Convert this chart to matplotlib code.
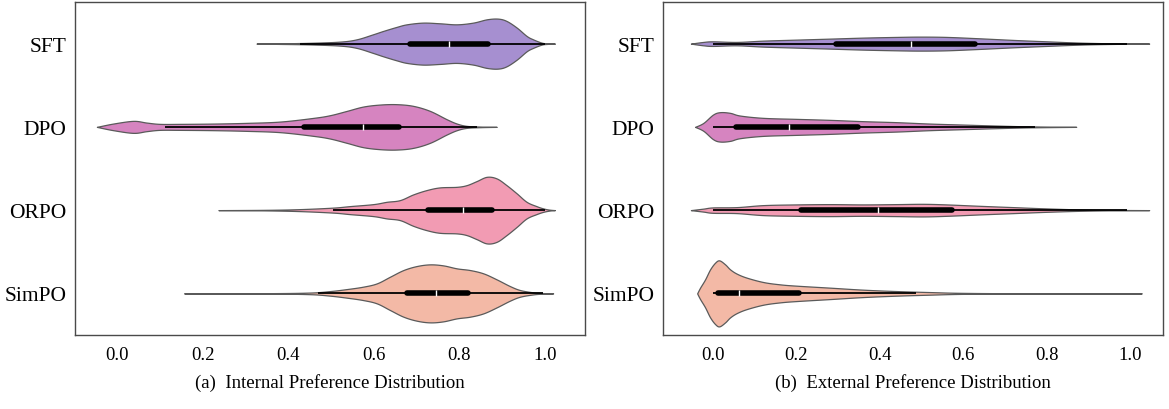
import numpy as np
import matplotlib
matplotlib.use("Agg")
import matplotlib.pyplot as plt

# ---------------- data ----------------
categories = ["SFT", "DPO", "ORPO", "SimPO"]
colors = ["#a68fd0", "#d684c0", "#f29bb3", "#f3b9a6"]

# Internal preference: density profiles (value, relative half-width)
int_sft_x = [0.326, 0.38, 0.45, 0.521, 0.56, 0.598, 0.622, 0.653, 0.677, 0.715, 0.755, 0.794, 0.832, 0.864, 0.89, 0.91, 0.934, 0.957, 0.972, 0.992, 1.005, 1.023]
int_sft_w = [0, 0.3, 0.8, 2, 4.3, 9.3, 12.7, 16.7, 19.3, 21, 20.3, 19.3, 21, 24.3, 25, 22.7, 16, 7.7, 4.3, 1, 0.3, 0]
int_dpo_x = [-0.047, -0.009, 0.038, 0.069, 0.10, 0.147, 0.225, 0.303, 0.381, 0.459, 0.498, 0.537, 0.575, 0.614, 0.653, 0.692, 0.731, 0.77, 0.794, 0.817, 0.85, 0.887]
int_dpo_w = [0, 3.3, 6, 4.3, 3, 3, 3.3, 4, 5.3, 9, 11.7, 16, 20.3, 22.3, 22.7, 21, 16, 7.7, 3.3, 1, 0.3, 0]
int_orpo_x = [0.237, 0.35, 0.428, 0.505, 0.544, 0.599, 0.630, 0.661, 0.692, 0.723, 0.754, 0.794, 0.817, 0.840, 0.864, 0.887, 0.91, 0.934, 0.957, 0.980, 0.996, 1.01, 1.023]
int_orpo_w = [0, 0.3, 1, 2.5, 4, 6, 8.3, 10, 15.7, 20, 22.7, 23.3, 25, 29, 33.3, 31.7, 25, 16.7, 8.3, 4, 1.7, 0.5, 0]
int_simpo_x = [0.157, 0.35, 0.45, 0.498, 0.537, 0.575, 0.607, 0.638, 0.669, 0.700, 0.731, 0.762, 0.794, 0.825, 0.856, 0.887, 0.918, 0.942, 0.973, 0.995, 1.019]
int_simpo_w = [0, 0.2, 0.8, 2.3, 4.3, 6.7, 10, 16.7, 23.3, 27.3, 29, 28, 25, 23.3, 20, 14, 7.3, 3.3, 1, 0.3, 0]

int_q1 = [0.684, 0.437, 0.726, 0.677]
int_median = [0.776, 0.575, 0.808, 0.745]
int_q3 = [0.866, 0.660, 0.877, 0.821]
int_whislo = [0.428, 0.112, 0.505, 0.470]
int_whishi = [1.000, 0.840, 1.000, 0.996]

# External preference
ext_sft_x = [-0.053, -0.023, 0.0, 0.057, 0.121, 0.2, 0.281, 0.36, 0.44, 0.496, 0.56, 0.64, 0.72, 0.80, 0.88, 0.96, 1.046]
ext_sft_w = [0, 1.7, 2.3, 1.7, 3, 4, 5, 6, 6.7, 7, 6.7, 5.3, 3.7, 2.3, 1, 0.3, 0]
ext_dpo_x = [-0.043, -0.023, 0.0, 0.017, 0.041, 0.065, 0.121, 0.2, 0.281, 0.36, 0.44, 0.52, 0.60, 0.68, 0.76, 0.871]
ext_dpo_w = [0, 4, 12.3, 14.7, 14, 11.3, 9, 8, 7, 5.7, 4.7, 3.3, 2.3, 1.3, 0.5, 0]
ext_orpo_x = [-0.053, -0.023, 0.0, 0.057, 0.121, 0.2, 0.281, 0.36, 0.44, 0.504, 0.56, 0.64, 0.72, 0.80, 0.88, 0.96, 1.046]
ext_orpo_w = [0, 1.5, 2.7, 3, 5, 5.7, 6, 5.7, 6, 6.3, 5.7, 4.3, 3, 1.7, 0.7, 0.2, 0]
ext_simpo_x = [-0.038, -0.031, -0.019, -0.007, 0.005, 0.015, 0.029, 0.041, 0.057, 0.081, 0.121, 0.161, 0.2, 0.281, 0.36, 0.44, 0.52, 0.6, 0.75, 1.028]
ext_simpo_w = [0, 5.7, 14, 24, 30.7, 33, 29, 24, 19.7, 15.7, 11.3, 9, 7.7, 5.7, 3.7, 2.3, 1.3, 0.5, 0.1, 0]

ext_q1 = [0.294, 0.055, 0.210, 0.011]
ext_median = [0.475, 0.182, 0.396, 0.062]
ext_q3 = [0.628, 0.347, 0.572, 0.207]
ext_whislo = [0.0, 0.0, 0.0, 0.0]
ext_whishi = [0.992, 0.772, 0.992, 0.487]

xticks = [0.0, 0.2, 0.4, 0.6, 0.8, 1.0]
captions = ["(a)  Internal Preference Distribution", "(b)  External Preference Distribution"]

int_profiles = [(int_sft_x, int_sft_w), (int_dpo_x, int_dpo_w), (int_orpo_x, int_orpo_w), (int_simpo_x, int_simpo_w)]
ext_profiles = [(ext_sft_x, ext_sft_w), (ext_dpo_x, ext_dpo_w), (ext_orpo_x, ext_orpo_w), (ext_simpo_x, ext_simpo_w)]

# ---------------- drawing ----------------
plt.rcParams["font.family"] = ["Liberation Serif", "DejaVu Serif"]

W, H = 1169, 410
fig = plt.figure(figsize=(W / 100, H / 100), dpi=100)


def smooth(x, w, n=12):
    """Catmull-Rom resampling of the outline for a smooth drawing."""
    x = np.asarray(x, float)
    w = np.asarray(w, float)
    px = np.concatenate([[x[0]], x, [x[-1]]])
    pw = np.concatenate([[w[0]], w, [w[-1]]])
    xs, ws = [], []
    for i in range(1, len(px) - 2):
        t = np.linspace(0, 1, n, endpoint=False)
        for arr, out in ((px, xs), (pw, ws)):
            p0, p1, p2, p3 = arr[i - 1], arr[i], arr[i + 1], arr[i + 2]
            out.append(0.5 * ((2 * p1) + (-p0 + p2) * t + (2 * p0 - 5 * p1 + 4 * p2 - p3) * t ** 2
                              + (-p0 + 3 * p1 - 3 * p2 + p3) * t ** 3))
    xs = np.concatenate(xs + [[x[-1]]])
    ws = np.concatenate(ws + [[w[-1]]])
    return xs, np.clip(ws, 0, None)


def panel(rect, profiles, q1, med, q3, lo, hi, xlim, caption):
    ax = fig.add_axes(rect)
    scale = 1 / 83.25
    for i, ((vx, vw), c) in enumerate(zip(profiles, colors)):
        xs, ws = smooth(vx, vw)
        ax.fill_between(xs, i - ws * scale, i + ws * scale, facecolor=c,
                        edgecolor="#5a5a5a", linewidth=0.9, zorder=2)
        ax.plot([lo[i], hi[i]], [i, i], color="black", lw=1.3, zorder=3, solid_capstyle="butt")
        ax.plot([q1[i], q3[i]], [i, i], color="black", lw=4.0, zorder=4, solid_capstyle="round")
        ax.plot([med[i]], [i], marker="|", color="white", ms=4.5, mew=1.0, zorder=5, linestyle="none")
    ax.set_ylim(3.5, -0.5)
    ax.set_xlim(*xlim)
    ax.set_yticks(range(len(categories)))
    ax.set_yticklabels(categories)
    ax.set_xticks(xticks)
    ax.set_xticklabels([f"{t:.1f}" for t in xticks])
    ax.tick_params(axis="x", length=0, labelsize=13.5, pad=8)
    ax.tick_params(axis="y", length=0, labelsize=15.5, pad=6)
    for s in ax.spines.values():
        s.set_color("#4a4a4a")
        s.set_linewidth(1.0)
    x0, _, w, _ = rect
    fig.text(x0 + w / 2, 1 - 383 / H, caption, ha="center", va="center", fontsize=13.5)
    return ax


bottom = (H - 336) / H
height = 333 / H
panel([75 / W, bottom, 510 / W, height], int_profiles, int_q1, int_median, int_q3,
      int_whislo, int_whishi, (-42 / 428, 468 / 428), captions[0])
panel([663 / W, bottom, 500 / W, height], ext_profiles, ext_q1, ext_median, ext_q3,
      ext_whislo, ext_whishi, (-50 / 417, 450 / 417), captions[1])

fig.savefig("out.png", dpi=100)
